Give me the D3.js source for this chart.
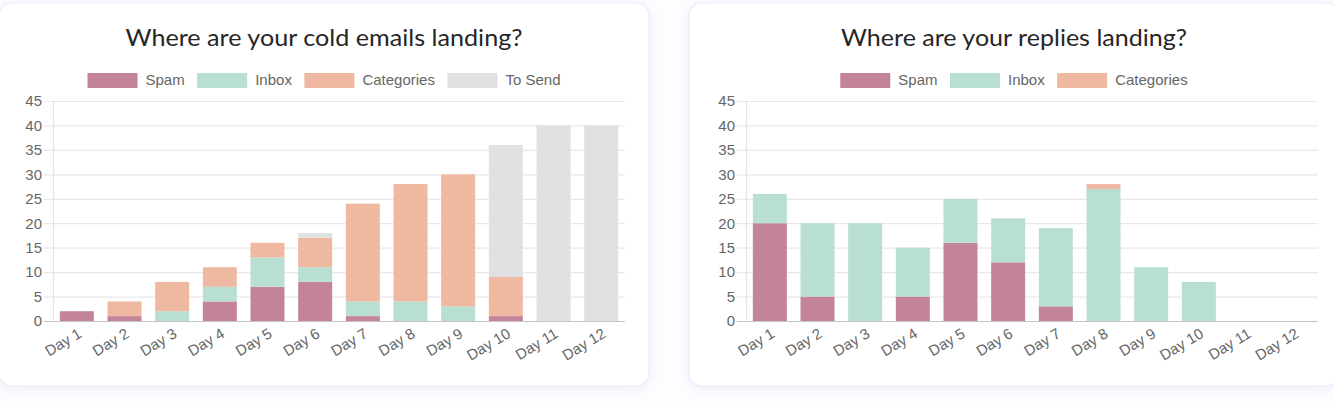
<!DOCTYPE html>
<html><head><meta charset="utf-8">
<script src="https://cdn.jsdelivr.net/npm/d3@7/dist/d3.min.js"></script>
<style>
html,body{margin:0;padding:0;background:#fdfdff;}
svg{display:block;}
</style></head>
<body>
<svg id="chart" width="1334" height="406"></svg>
<script>
const days = ["Day 1","Day 2","Day 3","Day 4","Day 5","Day 6","Day 7","Day 8","Day 9","Day 10","Day 11","Day 12"];
const yTicks = [0,5,10,15,20,25,30,35,40,45];

// Chart 1: cold emails
const emailSpam       = [2,1,0,4,7,8,1,0,0,1,0,0];
const emailInbox      = [0,0,2,3,6,3,3,4,3,0,0,0];
const emailCategories = [0,3,6,4,3,6,20,24,27,8,0,0];
const emailToSend     = [0,0,0,0,0,1,0,0,0,27,40,40];

// Chart 2: replies
const replySpam       = [20,5,0,5,16,12,3,0,0,0,0,0];
const replyInbox      = [6,15,20,10,9,9,16,27,11,8,0,0];
const replyCategories = [0,0,0,0,0,0,0,1,0,0,0,0];

const colors = {Spam:"#c2839b", Inbox:"#b8dfd2", Categories:"#efb8a1", "To Send":"#e1e1e1"};

const svg = d3.select("#chart");
const defs = svg.append("defs");
const f = defs.append("filter").attr("id","sh").attr("x","-10%").attr("y","-10%").attr("width","120%").attr("height","120%");
f.append("feDropShadow").attr("dx",0).attr("dy",2).attr("stdDeviation",6).attr("flood-color","#c9c6f0").attr("flood-opacity",0.35);

function drawCard(cfg){
  const g = svg.append("g");
  g.append("rect").attr("x",cfg.cardX).attr("y",3).attr("width",650).attr("height",383)
    .attr("rx",13).attr("fill","#fff").attr("stroke","#ecebfa").attr("stroke-width",1.2).attr("filter","url(#sh)");
  const cx = cfg.cardX + 325;
  g.append("text").attr("x",cx).attr("y",46).attr("text-anchor","middle")
    .attr("font-family","Lato, 'Noto Sans', sans-serif").attr("font-size",23.5).attr("fill","#262626")
    .attr("textLength",cfg.titleW).attr("lengthAdjust","spacingAndGlyphs")
    .text(cfg.title);

  const x = d3.scaleBand().domain(days).range([cfg.left, cfg.left+572]).paddingInner(0.28).paddingOuter(0.14);
  const y = d3.scaleLinear().domain([0,45]).range([321,101]);

  // gridlines
  const grid = g.append("g");
  grid.selectAll("line").data(yTicks).join("line")
    .attr("x1",cfg.left-9).attr("x2",cfg.left+572)
    .attr("y1",d=>y(d)+0.5).attr("y2",d=>y(d)+0.5)
    .attr("stroke",d=>d===0?"#c4c4c4":"#e8e8e8").attr("stroke-width",1.2);
  g.append("line").attr("x1",cfg.left+0.5).attr("x2",cfg.left+0.5).attr("y1",y(45)).attr("y2",y(0))
    .attr("stroke","#e3e3e3").attr("stroke-width",1.2);

  // y axis labels via d3 axis
  const yAxis = d3.axisLeft(y).tickValues(yTicks).tickSize(0).tickPadding(0);
  const ya = g.append("g").attr("transform",`translate(${cfg.left-11},0)`).call(yAxis);
  ya.select(".domain").remove();
  ya.selectAll("text").attr("font-family","'Liberation Sans', Arial, sans-serif").attr("font-size",15).attr("fill","#666");

  // stacked bars
  const keys = cfg.series.map(s=>s.name);
  const rows = days.map((d,i)=>{const o={day:d}; cfg.series.forEach(s=>o[s.name]=s.values[i]); return o;});
  const stack = d3.stack().keys(keys)(rows);
  const bw = 34;
  stack.forEach(layer=>{
    g.append("g").selectAll("rect").data(layer).join("rect")
      .attr("x",d=>x(d.data.day)+x.bandwidth()/2-bw/2)
      .attr("width",bw)
      .attr("y",d=>y(d[1]))
      .attr("height",d=>Math.max(0,y(d[0])-y(d[1])))
      .attr("fill",colors[layer.key]);
  });

  // x labels
  const xa = g.append("g");
  xa.selectAll("text").data(days).join("text")
    .attr("transform",d=>`translate(${x(d)+x.bandwidth()/2+3},332) rotate(-31)`)
    .attr("text-anchor","end").attr("dy","0.35em")
    .attr("font-family","'Liberation Sans', Arial, sans-serif").attr("font-size",15).attr("fill","#666")
    .text(d=>d);

  // legend
  const lf = "'Liberation Sans', Arial, sans-serif";
  const items = keys;
  const tmp = g.append("g");
  const widths = items.map(k=>{const t=tmp.append("text").attr("font-family",lf).attr("font-size",15).text(k); const w=t.node().getComputedTextLength(); t.remove(); return w;});
  tmp.remove();
  const itemW = widths.map(w=>50+8+w);
  const gap = 12.5;
  const total = d3.sum(itemW)+gap*(items.length-1);
  let lx = cx - total/2;
  const lg = g.append("g");
  items.forEach((k,i)=>{
    lg.append("rect").attr("x",lx).attr("y",73).attr("width",50).attr("height",15).attr("fill",colors[k]);
    lg.append("text").attr("x",lx+58).attr("y",80).attr("dy","0.35em").attr("font-family",lf).attr("font-size",15).attr("fill","#666").text(k);
    lx += itemW[i]+gap;
  });
}

drawCard({cardX:-1, left:53, titleW:397, title:"Where are your cold emails landing?",
  series:[{name:"Spam",values:emailSpam},{name:"Inbox",values:emailInbox},{name:"Categories",values:emailCategories},{name:"To Send",values:emailToSend}]});
drawCard({cardX:689, left:746, titleW:346, title:"Where are your replies landing?",
  series:[{name:"Spam",values:replySpam},{name:"Inbox",values:replyInbox},{name:"Categories",values:replyCategories}]});
</script>
</body></html>
